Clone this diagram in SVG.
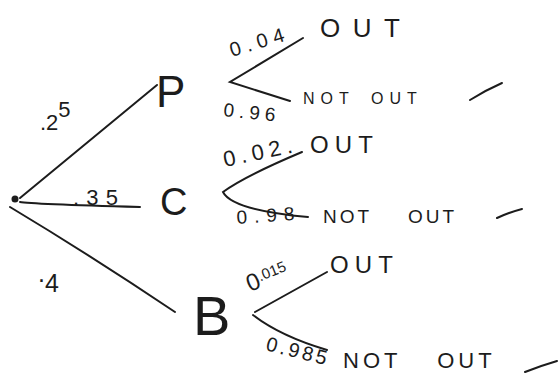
<svg xmlns="http://www.w3.org/2000/svg" width="559" height="373" viewBox="0 0 559 373">
<style>
  .ln { fill: none; stroke: #1c1c1c; stroke-width: 2; stroke-linecap: round; }
  .t { font-family: "Liberation Sans", "DejaVu Sans", sans-serif; fill: #1c1c1c; }
  .node { font-family: "Liberation Sans", "DejaVu Sans", sans-serif; fill: #1c1c1c; }
</style>
<rect width="559" height="373" fill="#ffffff"/>

<g id="connectors">
  <path class="ln" d="M20,198 L157,85"/>
  <path class="ln" d="M20,202 Q30,204 140,207"/>
  <path class="ln" d="M10,207 Q90,255 175,312"/>
  <path class="ln" d="M303,38 L230,82 L290,101"/>
  <path class="ln" d="M302,152 Q245,176 223,192 Q232,210 308,217"/>
  <path class="ln" d="M327,272 L255,312"/>
  <path class="ln" d="M253,315 Q280,336 327,350"/>
  <g id="edge-labels">
    <text class="t" x="40" y="130" font-size="22">.2<tspan dy="-13">5</tspan></text>
    <text class="t" x="73" y="205" font-size="22" textLength="45">.35</text>
    <text class="t" x="38" y="282" font-size="25">.<tspan dy="10">4</tspan></text>
    <text class="t" x="232" y="57" font-size="20" textLength="56" transform="rotate(-17 232 57)">0.04</text>
    <text class="t" x="223" y="116" font-size="19" textLength="52" transform="rotate(6 223 116)">0.96</text>
    <text class="t" x="225" y="167" font-size="22" textLength="70" transform="rotate(-12 225 167)">0.02.</text>
    <text class="t" x="237" y="224" font-size="19" textLength="58" transform="rotate(-4 237 224)">0.98</text>
    <text class="t" x="250" y="292" font-size="24" transform="rotate(-22 250 292)">0<tspan font-size="15" dy="-6">.015</tspan></text>
    <text class="t" x="265" y="350" font-size="20" textLength="62" transform="rotate(14 265 350)">0.985</text>
  </g>
</g>

<g id="root"><circle cx="15" cy="199" r="3.5" fill="#1c1c1c"/></g>
<g id="P"><text class="node" x="156" y="107" font-size="44">P</text></g>
<g id="C"><text class="node" x="160" y="215" font-size="38">C</text></g>
<g id="B"><text class="node" x="193" y="335" font-size="56" textLength="34">B</text></g>

<g id="P-out"><text class="t" x="320" y="37" font-size="26" textLength="80">OUT</text></g>
<g id="P-notout"><text class="t" x="303" y="104" font-size="16" letter-spacing="6" word-spacing="6">NOT OUT</text></g>
<g id="C-out"><text class="t" x="310" y="153" font-size="24" textLength="63">OUT</text></g>
<g id="C-notout"><text class="t" x="323" y="223" font-size="19" letter-spacing="3" word-spacing="28">NOT OUT</text></g>
<g id="B-out"><text class="t" x="330" y="273" font-size="24" textLength="63">OUT</text></g>
<g id="B-notout"><text class="t" x="343" y="368" font-size="22" letter-spacing="4" word-spacing="26">NOT OUT</text></g>

<g id="ticks">
  <path class="ln" d="M470,100 Q486,90 502,83"/>
  <path class="ln" d="M497,218 Q510,212 522,209"/>
  <path class="ln" d="M525,372 Q540,366 557,361"/>
</g>
</svg>
